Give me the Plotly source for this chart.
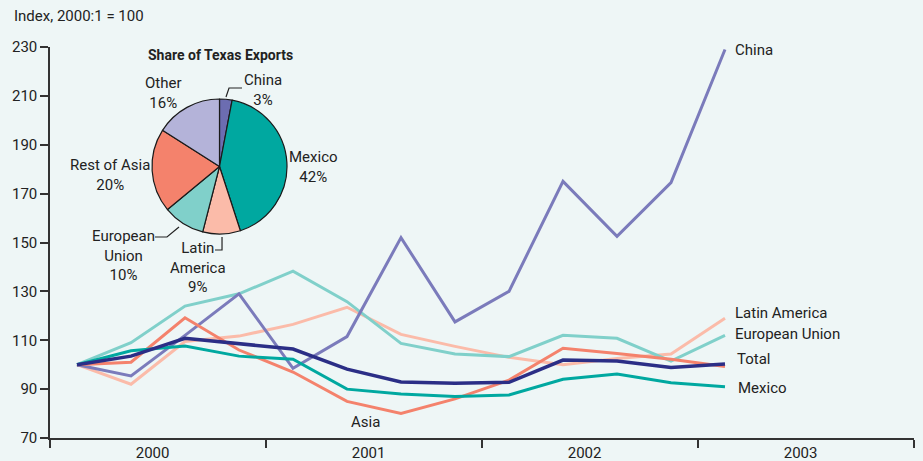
import plotly.graph_objects as go

# Quarterly export indexes, 2000:1 = 100 (2000Q1 .. 2003Q1)
quarters = ["2000:1", "2000:2", "2000:3", "2000:4", "2001:1", "2001:2", "2001:3",
            "2001:4", "2002:1", "2002:2", "2002:3", "2002:4", "2003:1"]
china = [100, 95.4, 112, 129, 98.5, 111.5, 152, 117.5, 130, 175, 152.5, 174.5, 229]
european_union = [100, 109, 124, 129, 138.3, 125.8, 108.7, 104.4, 103.3, 112, 110.8, 101.5, 112]
latin_america = [100, 92, 109.5, 111.7, 116.5, 123.5, 112.4, 107.5, 103, 100, 102.5, 104.4, 119]
asia = [100, 101, 119.2, 106, 97, 85, 80, 86, 93.7, 106.7, 104.6, 102.2, 99.3]
mexico = [100, 105.7, 107.6, 103.5, 102.2, 90, 88, 87, 87.6, 94, 96.2, 92.6, 91]
total = [100, 103.5, 110.8, 108.5, 106.4, 98.2, 92.9, 92.4, 92.8, 101.9, 101.5, 98.9, 100.3]

years = ["2000", "2001", "2002", "2003"]
y_ticks = [70, 90, 110, 130, 150, 170, 190, 210, 230]

# Share of Texas exports (pie)
share_labels = ["China", "Mexico", "Latin America", "European Union", "Rest of Asia", "Other"]
share_values = [3, 42, 9, 10, 20, 16]

C_CHINA = "#7b7bbb"
C_CHINA_PIE = "#6c6db1"
C_EU = "#80d0ca"
C_LATAM = "#fbbba9"
C_ASIA = "#f4826c"
C_MEXICO = "#00a8a0"
C_TOTAL = "#2b2e86"
C_OTHER = "#b4b3d9"
BG = "#eef6f6"
TXT = "#222222"
FONT = "Roboto, Liberation Sans, sans-serif"

# plot area in pixels: x 50..914, y 47..438
L, R, T, B = 50, 914, 47, 438


def px(x, y):
    """Pixel position in the page -> paper coordinates."""
    return (x - L) / (R - L), (B - y) / (B - T)


# each quarter sits in the middle of its quarter-wide slot
xq = [i + 0.5 for i in range(len(quarters))]

fig = go.Figure()
series = [
    ("Latin America", latin_america, C_LATAM, 3),
    ("European Union", european_union, C_EU, 3),
    ("China", china, C_CHINA, 3),
    ("Asia", asia, C_ASIA, 3),
    ("Mexico", mexico, C_MEXICO, 3),
    ("Total", total, C_TOTAL, 3.5),
]
for name, vals, col, w in series:
    fig.add_trace(go.Scatter(x=xq, y=vals, mode="lines", name=name,
                             line=dict(color=col, width=w), showlegend=False,
                             hovertext=quarters, hoverinfo="text+y"))

fig.add_trace(go.Pie(labels=share_labels, values=share_values, sort=False,
                     direction="clockwise", rotation=0,
                     marker=dict(colors=[C_CHINA_PIE, C_MEXICO, C_LATAM, C_EU, C_ASIA, C_OTHER],
                                 line=dict(color="#1a1a1a", width=1.2)),
                     textinfo="none", showlegend=False,
                     domain=dict(x=[px(152, 0)[0], px(287, 0)[0]],
                                 y=[px(0, 234)[1], px(0, 99)[1]])))

# invisible trace on the secondary axis carrying the year labels
fig.add_trace(go.Scatter(x=[0, 16], y=[None, None], xaxis="x2", showlegend=False,
                         hoverinfo="skip"))

fig.update_layout(
    width=923, height=461,
    margin=dict(l=L, r=923 - R, t=T, b=461 - B, autoexpand=False),
    paper_bgcolor=BG, plot_bgcolor=BG,
    font=dict(family=FONT, size=15, color=TXT),
    xaxis=dict(range=[0, 16], tickvals=[0, 4, 8, 12, 16], ticktext=[""] * 5,
               ticks="outside", ticklen=8, tickwidth=1.5, tickcolor="#333",
               showline=True, linecolor="#333", linewidth=1.5, automargin=False,
               showgrid=False, zeroline=False, fixedrange=True),
    xaxis2=dict(range=[0, 16], overlaying="x", side="bottom", automargin=False,
                tickvals=[1.9, 5.9, 9.9, 13.9], ticktext=years, ticks="",
                ticklabelstandoff=4,
                showline=False, showgrid=False, zeroline=False,
                tickfont=dict(size=15), fixedrange=True),
    yaxis=dict(range=[70, 230], tickvals=y_ticks, ticks="outside", ticklen=8,
               tickwidth=1.5, tickcolor="#333", showline=True, linecolor="#333",
               linewidth=1.5, showgrid=False, zeroline=False, automargin=False,
               tickfont=dict(size=15), fixedrange=True),
)

annotations = [
    ("Index, 2000:1 = 100", 12, 16, "left", 15),
    ("<b>Share of Texas Exports</b>", 220, 55, "center", 14),
    ("Other<br>16%", 163, 93, "center", 15),
    ("China<br>3%", 263, 90, "center", 15),
    ("Mexico<br>42%", 313, 167, "center", 15),
    ("Rest of Asia<br>20%", 110, 175, "center", 15),
    ("European<br>Union<br>10%", 123, 255, "center", 15),
    ("Latin<br>America<br>9%", 198, 267, "center", 15),
    ("China", 733, 50, "left", 15),
    ("Latin America", 733, 313, "left", 15),
    ("European Union", 733, 334, "left", 15),
    ("Total", 735, 359, "left", 15),
    ("Mexico", 736, 388, "left", 15),
    ("Asia", 365, 422, "center", 15),
]
for text, x, y, anchor, size in annotations:
    ax, ay = px(x, y)
    fig.add_annotation(text=text, x=ax, y=ay, xref="paper", yref="paper",
                       xanchor=anchor, yanchor="middle", showarrow=False,
                       align="center", font=dict(size=size, family=FONT, color=TXT))

# leader lines for the small pie slices
leaders = [
    [(226, 97), (229, 88), (242, 88)],
    [(155, 237), (167, 237), (179, 227)],
    [(215, 250), (222, 250), (222, 237)],
]
for pts in leaders:
    path = "M " + " L ".join(f"{px(x, y)[0]:.4f},{px(x, y)[1]:.4f}" for x, y in pts)
    fig.add_shape(type="path", path=path, xref="paper", yref="paper",
                  line=dict(color=TXT, width=1.2))

fig.write_html("out.html")
